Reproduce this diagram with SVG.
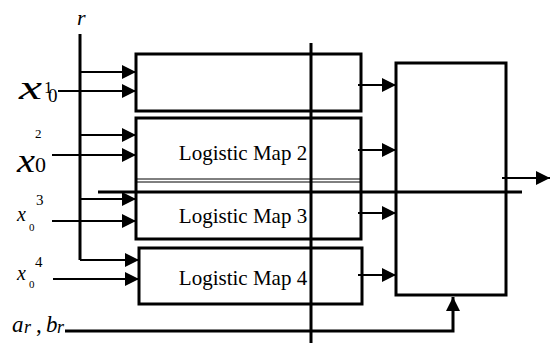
<svg xmlns="http://www.w3.org/2000/svg" width="550" height="343" viewBox="0 0 550 343">
<defs>
<marker id="ah" viewBox="0 0 14 14" refX="14" refY="7" markerWidth="14" markerHeight="14" markerUnits="userSpaceOnUse" orient="auto"><path d="M0,0 L14,7 L0,14 Z" fill="#000"/></marker>
</defs>
<rect width="550" height="343" fill="#fff"/>

<g fill="none" stroke="#000" stroke-width="3">
<g id="map1">
<rect x="136" y="54" width="225" height="57"/>
</g>
<g id="map2">
<path d="M136,181 V118 H361 V181"/>
<path d="M136,179 H361 M136,182 H361" stroke-width="1"/>
<text x="243" y="160" stroke="none" fill="#000" text-anchor="middle" font-size="21" font-family="'Liberation Serif', serif">Logistic Map 2</text>
</g>
<g id="map3">
<path d="M136,181 V239 H361 V181"/>
<text x="243" y="223" stroke="none" fill="#000" text-anchor="middle" font-size="21" font-family="'Liberation Serif', serif">Logistic Map 3</text>
</g>
<g id="map4">
<rect x="139" y="248" width="223" height="56"/>
<text x="243" y="285" stroke="none" fill="#000" text-anchor="middle" font-size="21" font-family="'Liberation Serif', serif">Logistic Map 4</text>
</g>
<g id="combiner">
<rect x="396" y="63" width="110" height="232"/>
</g>
</g>

<g id="connectors" fill="none" stroke="#000" stroke-width="2">
<line stroke-width="3" x1="80" y1="34" x2="80" y2="260"/>
<g marker-end="url(#ah)">
<line x1="80" y1="72" x2="136" y2="72" marker-end="url(#ah)"/>
<line x1="80" y1="135" x2="136" y2="135" marker-end="url(#ah)"/>
<line x1="80" y1="199" x2="136" y2="199" marker-end="url(#ah)"/>
<line x1="80" y1="260" x2="139" y2="260" marker-end="url(#ah)"/>
<line x1="58" y1="91" x2="136" y2="91" marker-end="url(#ah)"/>
<line x1="52" y1="155" x2="136" y2="155" marker-end="url(#ah)"/>
<line x1="52" y1="221" x2="136" y2="221" marker-end="url(#ah)"/>
<line x1="53" y1="279" x2="139" y2="279" marker-end="url(#ah)"/>
<line x1="358" y1="85" x2="396" y2="85" marker-end="url(#ah)"/>
<line x1="358" y1="150" x2="396" y2="150" marker-end="url(#ah)"/>
<line x1="358" y1="213" x2="396" y2="213" marker-end="url(#ah)"/>
<line x1="358" y1="275" x2="396" y2="275" marker-end="url(#ah)"/>
<line x1="502" y1="178" x2="550" y2="178" marker-end="url(#ah)"/>
<path stroke-width="3" d="M65,331 H453 V297" marker-end="url(#ah)"/>
</g>
<line stroke-width="3" x1="98" y1="192" x2="522" y2="192"/>
<line stroke-width="3" x1="311" y1="43" x2="311" y2="343"/>
</g>

<g id="labels" font-family="'Liberation Serif', serif" fill="#000">
<text font-style="italic" x="77" y="25" font-size="22">r</text>
<text font-size="17"><tspan font-style="italic" x="19" y="99" font-size="34" textLength="23" lengthAdjust="spacingAndGlyphs">x</tspan><tspan x="44" y="93">1</tspan><tspan x="48" y="102" font-size="19">0</tspan></text>
<text font-size="13"><tspan x="35" y="138">2</tspan><tspan font-style="italic" x="17" y="172" font-size="33" textLength="18" lengthAdjust="spacingAndGlyphs">x</tspan><tspan x="35" y="172" font-size="22">0</tspan></text>
<text font-size="15"><tspan x="36" y="205">3</tspan><tspan font-style="italic" x="17" y="221" font-size="20">x</tspan><tspan x="29" y="231" font-size="11">0</tspan></text>
<text font-size="15"><tspan x="35" y="267">4</tspan><tspan font-style="italic" x="17" y="280" font-size="20">x</tspan><tspan x="29" y="288" font-size="11">0</tspan></text>
<text font-style="italic" font-size="23"><tspan x="12" y="332">a</tspan><tspan x="24" y="333" font-size="18">r</tspan><tspan x="36" y="332" font-style="normal">,</tspan><tspan x="46" y="332">b</tspan><tspan x="57" y="333" font-size="18">r</tspan></text>
</g>
</svg>
